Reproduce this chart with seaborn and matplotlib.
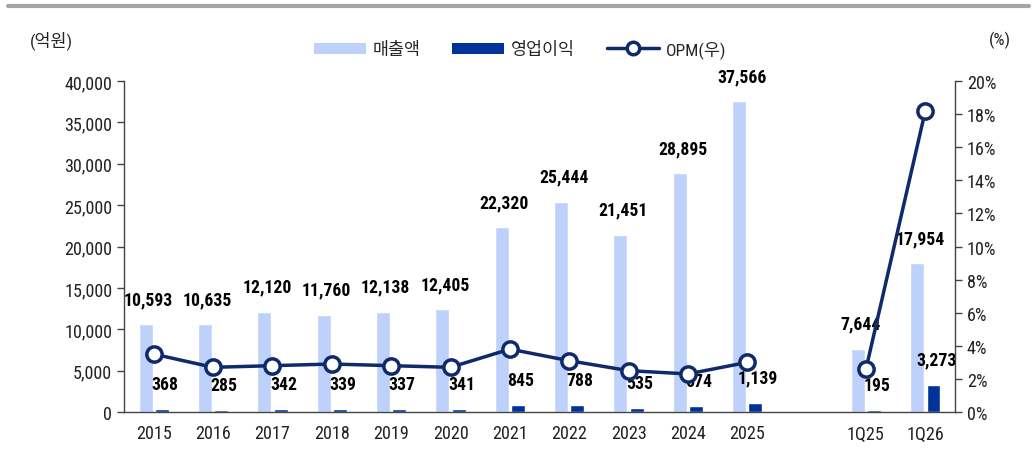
import numpy as np
import pandas as pd
import matplotlib.pyplot as plt
import seaborn as sns
from matplotlib import font_manager as fm
from matplotlib.lines import Line2D
from matplotlib.patches import Patch
from matplotlib.ticker import FuncFormatter, MultipleLocator, FixedLocator

# data
categories = ["2015", "2016", "2017", "2018", "2019", "2020", "2021", "2022",
              "2023", "2024", "2025", " ", "1Q25", "1Q26"]
revenue = [10593, 10635, 12120, 11760, 12138, 12405, 22320, 25444,
           21451, 28895, 37566, np.nan, 7644, 17954]
op_profit = [368, 285, 342, 339, 337, 341, 845, 788,
             535, 674, 1139, np.nan, 195, 3273]
opm = [3.5, 2.7, 2.8, 2.9, 2.8, 2.7, 3.8, 3.1,
       2.5, 2.3, 3.0, np.nan, 2.6, 18.2]
segment = ["y"] * 11 + ["gap"] + ["q", "q"]

rev_c = "#bdd1fa"
op_c = "#003399"
line_c = "#0f2a6b"
txt_c = "#222222"

# pick a narrow font that also has a bold face
bold_ok = {f.name for f in fm.fontManager.ttflist if f.weight in (700, "bold")}
wanted = ["Liberation Sans Narrow", "Arimo Narrow", "Roboto Condensed", "Open Sans Condensed",
          "Noto Sans Condensed", "Barlow Semi Condensed", "Asap Condensed", "Barlow Condensed"]
latin = next((n for n in wanted if n in bold_ok), "Liberation Sans")

sns.set_style("white")
plt.rcParams["font.family"] = [latin, "Noto Sans CJK KR", "DejaVu Sans"]

fig = plt.figure(figsize=(10.34, 4.56), dpi=100)
renderer = fig.canvas.get_renderer()


def fit_size(s, px, weight="normal"):
    t = fig.text(0, 0, s, fontsize=10, fontweight=weight)
    w = t.get_window_extent(renderer).width
    t.remove()
    return min(15, 10 * px / w)


tick_fs = fit_size("40,000", 48)
lab_fs = fit_size("10,593", 49, "bold")

bars = pd.DataFrame({"cat": categories * 2,
                     "series": ["매출액"] * len(categories) + ["영업이익"] * len(categories),
                     "value": revenue + op_profit}).dropna()
line_df = pd.DataFrame({"pos": np.arange(len(categories)), "opm": opm, "seg": segment}).dropna()

ax = fig.add_axes([0.12, 0.0943, 0.8036, 0.7257])

sns.barplot(data=bars, x="cat", y="value", hue="series", order=categories,
            hue_order=["매출액", "영업이익"], palette=[rev_c, op_c],
            width=0.55, gap=0.15, ax=ax, legend=False, saturation=1)

# value labels
for cont in ax.containers:
    for p in cont.patches:
        h = p.get_height()
        if np.isnan(h) or h == 0:
            continue
        ax.annotate(f"{h:,.0f}", (p.get_x() + p.get_width() / 2, h),
                    xytext=(2, 18), textcoords="offset points",
                    ha="center", va="center", fontsize=lab_fs, fontweight="bold",
                    color="black")

ax.set_ylim(0, 40000)
ax.set_xlim(-0.5, len(categories) - 0.5)
ax.yaxis.set_major_locator(MultipleLocator(5000))
ax.yaxis.set_major_formatter(FuncFormatter(lambda v, p: f"{v:,.0f}"))
ax.set_xlabel("")
ax.set_ylabel("")
ax.xaxis.set_minor_locator(FixedLocator(np.arange(-0.5, len(categories), 1)))
ax.tick_params(axis="x", which="major", length=0, labelsize=tick_fs, colors=txt_c, pad=9)
ax.tick_params(axis="x", which="minor", length=6, width=1, color="#444444", direction="out")
ax.tick_params(axis="y", length=5, width=1, color="#444444", labelsize=tick_fs,
               labelcolor=txt_c, direction="out", left=True)

ax2 = ax.twinx()
sns.lineplot(data=line_df, x="pos", y="opm", units="seg", estimator=None,
             color=line_c, linewidth=2.5, marker="o", markersize=11,
             markerfacecolor="white", markeredgecolor=line_c,
             markeredgewidth=2.5, ax=ax2, zorder=5)
ax2.set_ylim(0, 20)
ax2.yaxis.set_major_locator(MultipleLocator(2))
ax2.yaxis.set_major_formatter(FuncFormatter(lambda v, p: f"{v:.0f}%"))
ax2.set_xlabel("")
ax2.set_ylabel("")
ax2.tick_params(axis="y", length=5, width=1, color="#444444", labelsize=tick_fs,
                labelcolor=txt_c, direction="out", right=True)
ax2.set_xlim(-0.5, len(categories) - 0.5)

for a in (ax, ax2):
    a.spines["top"].set_visible(False)
    for s in ("left", "right", "bottom"):
        a.spines[s].set_color("#444444")
        a.spines[s].set_linewidth(1)
ax.spines["right"].set_visible(False)
ax2.spines["left"].set_visible(False)
ax2.spines["bottom"].set_visible(False)

# unit labels
fig.text(0.029, 0.912, "(억원)", fontsize=12.5, color=txt_c, va="center")
fig.text(0.978, 0.912, "(%)", fontsize=12.5, color=txt_c, va="center", ha="right")

# top gray rule
fig.add_artist(Line2D([0.008, 0.995], [0.984, 0.984], transform=fig.transFigure,
                      color="#a6a6a6", linewidth=3))

handles = [Patch(facecolor=rev_c, edgecolor="none"),
           Patch(facecolor=op_c, edgecolor="none"),
           Line2D([], [], color=line_c, linewidth=2.5, marker="o", markersize=9,
                  markerfacecolor="white", markeredgecolor=line_c, markeredgewidth=2.5)]
fig.legend(handles, ["매출액", "영업이익", "OPM(우)"], loc="center",
           bbox_to_anchor=(0.503, 0.89), ncol=3, frameon=False, fontsize=12.5,
           handlelength=3.0, handleheight=0.6, handletextpad=0.4, columnspacing=1.8)

fig.savefig("out.png", dpi=100)
